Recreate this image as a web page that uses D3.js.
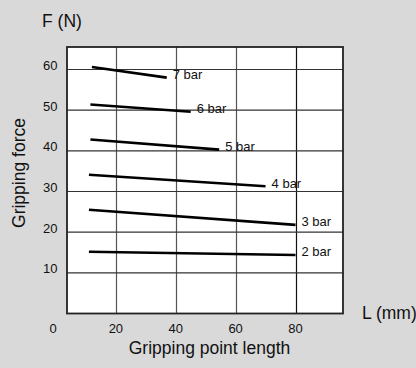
<!DOCTYPE html>
<html>
<head>
<meta charset="utf-8">
<script src="https://d3js.org/d3.v7.min.js"></script>
<style>
  body { margin: 0; background: #d9d9d9; }
  svg { display: block; font-family: "Liberation Sans", Arial, sans-serif; }
</style>
</head>
<body>
<div id="chart"></div>
<script>
// gripping force vs gripping point length, one line per supply pressure
var pressures = ["2 bar", "3 bar", "4 bar", "5 bar", "6 bar", "7 bar"];
var startLen  = [11, 11, 11, 11.5, 11.5, 12];
var endLen    = [80, 80, 70, 54.5, 45, 37];
var startForce = [15.2, 25.5, 34.1, 42.8, 51.4, 60.6];
var endForce   = [14.4, 21.8, 31.3, 40.3, 49.6, 58.0];

var xTicks = [20, 40, 60, 80];
var yTicks = [10, 20, 30, 40, 50, 60];

var width = 416, height = 368;

var x = d3.scaleLinear().domain([0, 80]).range([56, 295.5]);
var y = d3.scaleLinear().domain([0, 60]).range([313.5, 69.5]);

// plot box (window.top is reserved, so prefixed names)
var boxL = 67, boxR = 343, boxT = 47, boxB = 313.5;

var svg = d3.select("#chart").append("svg")
    .attr("width", width)
    .attr("height", height);

svg.append("rect")
    .attr("width", width).attr("height", height)
    .attr("fill", "#d9d9d9");

svg.append("rect")
    .attr("x", boxL).attr("y", boxT)
    .attr("width", boxR - boxL).attr("height", boxB - boxT)
    .attr("fill", "#fff");

// grid
svg.selectAll(".vgrid")
    .data(xTicks)
    .enter().append("line")
    .attr("x1", function(d) { return Math.round(x(d)) + 0.5; })
    .attr("x2", function(d) { return Math.round(x(d)) + 0.5; })
    .attr("y1", boxT).attr("y2", boxB)
    .attr("stroke", function(d) { return d == 80 ? "#111" : "#555"; })
    .attr("stroke-width", 1.2);

svg.selectAll(".hgrid")
    .data(yTicks)
    .enter().append("line")
    .attr("x1", boxL).attr("x2", boxR)
    .attr("y1", function(d) { return y(d); })
    .attr("y2", function(d) { return y(d); })
    .attr("stroke", "#333")
    .attr("stroke-width", 1.2);

// frame
svg.append("rect")
    .attr("x", boxL).attr("y", boxT)
    .attr("width", boxR - boxL).attr("height", boxB - boxT)
    .attr("fill", "none")
    .attr("stroke", "#222")
    .attr("stroke-width", 1.8);

// tick labels
svg.selectAll(".xt")
    .data(xTicks)
    .enter().append("text")
    .attr("x", function(d) { return x(d); })
    .attr("y", 333)
    .attr("text-anchor", "middle")
    .attr("font-size", 13)
    .attr("fill", "#111")
    .text(function(d) { return d; });

svg.append("text")
    .attr("x", x(0) - 3)
    .attr("y", 333)
    .attr("text-anchor", "middle")
    .attr("font-size", 13)
    .attr("fill", "#111")
    .text("0");

svg.selectAll(".yt")
    .data(yTicks)
    .enter().append("text")
    .attr("x", 57.5)
    .attr("y", function(d) { return y(d) + 0.5; })
    .attr("text-anchor", "end")
    .attr("font-size", 13)
    .attr("fill", "#111")
    .text(function(d) { return d; });

// pressure lines
var idx = d3.range(pressures.length);

svg.selectAll(".pline")
    .data(idx)
    .enter().append("line")
    .attr("x1", function(i) { return x(startLen[i]); })
    .attr("y1", function(i) { return y(startForce[i]); })
    .attr("x2", function(i) { return x(endLen[i]); })
    .attr("y2", function(i) { return y(endForce[i]); })
    .attr("stroke", "#000")
    .attr("stroke-width", 2.6);

svg.selectAll(".plabel")
    .data(idx)
    .enter().append("text")
    .attr("x", function(i) { return x(endLen[i]) + 6; })
    .attr("y", function(i) { return y(endForce[i]) + 1.5; })
    .attr("font-size", 13)
    .attr("fill", "#111")
    .text(function(i) { return pressures[i]; });

// axis titles
svg.append("text")
    .attr("x", 42).attr("y", 27)
    .attr("font-size", 17.5)
    .attr("fill", "#111")
    .text("F (N)");

svg.append("text")
    .attr("transform", "translate(25,173) rotate(-90)")
    .attr("text-anchor", "middle")
    .attr("font-size", 17.5)
    .attr("fill", "#111")
    .text("Gripping force");

svg.append("text")
    .attr("x", 209.5).attr("y", 354)
    .attr("text-anchor", "middle")
    .attr("font-size", 17.5)
    .attr("fill", "#111")
    .text("Gripping point length");

svg.append("text")
    .attr("x", 362).attr("y", 318.5)
    .attr("font-size", 17.5)
    .attr("fill", "#111")
    .text("L (mm)");
</script>
</body>
</html>
